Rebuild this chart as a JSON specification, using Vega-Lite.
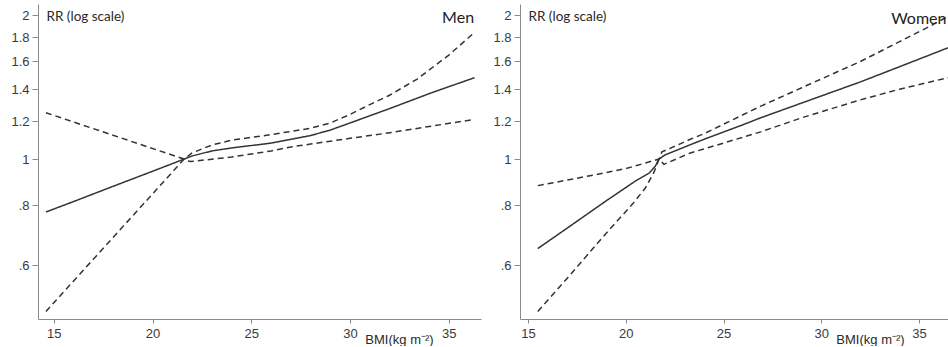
{
  "$schema": "https://vega.github.io/schema/vega-lite/v6.json",
  "padding": {"left": 10, "top": 4, "right": 0, "bottom": 0},
  "autosize": {"type": "pad"},
  "spacing": 11,
  "background": "white",
  "config": {
    "view": {"stroke": null},
    "axis": {"grid": false, "domainColor": "#8a8a8a", "tickColor": "#8a8a8a", "labelFont": "Liberation Sans", "labelFontSize": 13, "labelColor": "#3a3a3a", "titleFontWeight": "normal", "titleColor": "#2a2a2a"}
  },
  "datasets": {
    "curves": [
      {"sex": "Men", "series": "est", "bmi": 14.6, "rr": 0.775},
      {"sex": "Men", "series": "est", "bmi": 16, "rr": 0.815},
      {"sex": "Men", "series": "est", "bmi": 18, "rr": 0.877},
      {"sex": "Men", "series": "est", "bmi": 20, "rr": 0.943},
      {"sex": "Men", "series": "est", "bmi": 21.6, "rr": 1.0},
      {"sex": "Men", "series": "est", "bmi": 22, "rr": 1.015},
      {"sex": "Men", "series": "est", "bmi": 23, "rr": 1.04},
      {"sex": "Men", "series": "est", "bmi": 24, "rr": 1.055},
      {"sex": "Men", "series": "est", "bmi": 26, "rr": 1.08},
      {"sex": "Men", "series": "est", "bmi": 28, "rr": 1.12},
      {"sex": "Men", "series": "est", "bmi": 29, "rr": 1.15},
      {"sex": "Men", "series": "est", "bmi": 30, "rr": 1.19},
      {"sex": "Men", "series": "est", "bmi": 32, "rr": 1.275},
      {"sex": "Men", "series": "est", "bmi": 34, "rr": 1.37},
      {"sex": "Men", "series": "est", "bmi": 36.3, "rr": 1.48},
      {"sex": "Men", "series": "hi", "bmi": 14.6, "rr": 1.25},
      {"sex": "Men", "series": "hi", "bmi": 21.6, "rr": 1.0},
      {"sex": "Men", "series": "hi", "bmi": 22, "rr": 1.03},
      {"sex": "Men", "series": "hi", "bmi": 23, "rr": 1.07},
      {"sex": "Men", "series": "hi", "bmi": 24, "rr": 1.095},
      {"sex": "Men", "series": "hi", "bmi": 26, "rr": 1.125},
      {"sex": "Men", "series": "hi", "bmi": 28, "rr": 1.16},
      {"sex": "Men", "series": "hi", "bmi": 29, "rr": 1.19},
      {"sex": "Men", "series": "hi", "bmi": 30, "rr": 1.24},
      {"sex": "Men", "series": "hi", "bmi": 31, "rr": 1.3},
      {"sex": "Men", "series": "hi", "bmi": 32, "rr": 1.36},
      {"sex": "Men", "series": "hi", "bmi": 33.4, "rr": 1.47},
      {"sex": "Men", "series": "hi", "bmi": 35, "rr": 1.65},
      {"sex": "Men", "series": "hi", "bmi": 36.3, "rr": 1.84},
      {"sex": "Men", "series": "lo", "bmi": 14.6, "rr": 0.48},
      {"sex": "Men", "series": "lo", "bmi": 21.6, "rr": 1.0},
      {"sex": "Men", "series": "lo", "bmi": 21.9, "rr": 0.988},
      {"sex": "Men", "series": "lo", "bmi": 24, "rr": 1.01},
      {"sex": "Men", "series": "lo", "bmi": 26, "rr": 1.04},
      {"sex": "Men", "series": "lo", "bmi": 27, "rr": 1.06},
      {"sex": "Men", "series": "lo", "bmi": 28, "rr": 1.075},
      {"sex": "Men", "series": "lo", "bmi": 30, "rr": 1.105},
      {"sex": "Men", "series": "lo", "bmi": 32, "rr": 1.135},
      {"sex": "Men", "series": "lo", "bmi": 34, "rr": 1.17},
      {"sex": "Men", "series": "lo", "bmi": 36.3, "rr": 1.21},
      {"sex": "Women", "series": "est", "bmi": 15.5, "rr": 0.65},
      {"sex": "Women", "series": "est", "bmi": 17, "rr": 0.717},
      {"sex": "Women", "series": "est", "bmi": 19, "rr": 0.818},
      {"sex": "Women", "series": "est", "bmi": 20.5, "rr": 0.9},
      {"sex": "Women", "series": "est", "bmi": 21.2, "rr": 0.935},
      {"sex": "Women", "series": "est", "bmi": 21.5, "rr": 0.965},
      {"sex": "Women", "series": "est", "bmi": 21.7, "rr": 1.0},
      {"sex": "Women", "series": "est", "bmi": 22, "rr": 1.02},
      {"sex": "Women", "series": "est", "bmi": 24, "rr": 1.1},
      {"sex": "Women", "series": "est", "bmi": 26, "rr": 1.18},
      {"sex": "Women", "series": "est", "bmi": 26.9, "rr": 1.22},
      {"sex": "Women", "series": "est", "bmi": 29, "rr": 1.31},
      {"sex": "Women", "series": "est", "bmi": 32, "rr": 1.45},
      {"sex": "Women", "series": "est", "bmi": 34, "rr": 1.56},
      {"sex": "Women", "series": "est", "bmi": 36.5, "rr": 1.71},
      {"sex": "Women", "series": "hi", "bmi": 15.5, "rr": 0.88},
      {"sex": "Women", "series": "hi", "bmi": 18, "rr": 0.92},
      {"sex": "Women", "series": "hi", "bmi": 20, "rr": 0.955},
      {"sex": "Women", "series": "hi", "bmi": 21.7, "rr": 1.0},
      {"sex": "Women", "series": "hi", "bmi": 21.85, "rr": 1.035},
      {"sex": "Women", "series": "hi", "bmi": 23.3, "rr": 1.1},
      {"sex": "Women", "series": "hi", "bmi": 24, "rr": 1.13},
      {"sex": "Women", "series": "hi", "bmi": 26.9, "rr": 1.29},
      {"sex": "Women", "series": "hi", "bmi": 29, "rr": 1.41},
      {"sex": "Women", "series": "hi", "bmi": 32, "rr": 1.6},
      {"sex": "Women", "series": "hi", "bmi": 34, "rr": 1.76},
      {"sex": "Women", "series": "hi", "bmi": 35.6, "rr": 1.9},
      {"sex": "Women", "series": "hi", "bmi": 36.5, "rr": 1.99},
      {"sex": "Women", "series": "lo", "bmi": 15.5, "rr": 0.48},
      {"sex": "Women", "series": "lo", "bmi": 17, "rr": 0.563},
      {"sex": "Women", "series": "lo", "bmi": 19, "rr": 0.7},
      {"sex": "Women", "series": "lo", "bmi": 20.4, "rr": 0.81},
      {"sex": "Women", "series": "lo", "bmi": 21.0, "rr": 0.87},
      {"sex": "Women", "series": "lo", "bmi": 21.45, "rr": 0.94},
      {"sex": "Women", "series": "lo", "bmi": 21.7, "rr": 1.0},
      {"sex": "Women", "series": "lo", "bmi": 21.95, "rr": 0.975},
      {"sex": "Women", "series": "lo", "bmi": 23.3, "rr": 1.03},
      {"sex": "Women", "series": "lo", "bmi": 24, "rr": 1.05},
      {"sex": "Women", "series": "lo", "bmi": 26.9, "rr": 1.14},
      {"sex": "Women", "series": "lo", "bmi": 29, "rr": 1.22},
      {"sex": "Women", "series": "lo", "bmi": 32, "rr": 1.33},
      {"sex": "Women", "series": "lo", "bmi": 34, "rr": 1.4},
      {"sex": "Women", "series": "lo", "bmi": 36.5, "rr": 1.48}
    ]
  },
  "hconcat": [
    {
      "width": 443,
      "height": 315,
      "layer": [
        {
          "data": {"name": "curves"},
          "transform": [{"filter": "datum.sex === 'Men'"}],
          "mark": {"type": "line", "color": "#333333", "strokeWidth": 1.5, "clip": true},
          "encoding": {
            "x": {"field": "bmi", "type": "quantitative", "scale": {"domain": [14.2, 36.63], "nice": false, "zero": false},
              "axis": {"values": [15, 20, 25, 30, 35], "tickSize": 4, "labelPadding": 4, "title": "BMI(kg m⁻²)", "titleX": 361, "titleY": 24, "titleBaseline": "alphabetic", "titleAlign": "center", "titleFont": "Liberation Sans", "titleFontSize": 13}},
            "y": {"field": "rr", "type": "quantitative", "scale": {"type": "log", "domain": [0.463, 2.11], "nice": false, "zero": false},
              "axis": {"values": [0.6, 0.8, 1, 1.2, 1.4, 1.6, 1.8, 2], "labelExpr": "datum.value < 1 ? '.' + format(datum.value * 10, '.0f') : format(datum.value, '~g')", "tickSize": 6, "labelPadding": 3, "title": "RR (log scale)", "titleAngle": 0, "titleX": 8, "titleY": 12, "titleAlign": "left", "titleBaseline": "middle", "titleFont": "Lato", "titleFontSize": 13.5}},
            "detail": {"field": "series"},
            "strokeDash": {"field": "series", "type": "nominal", "scale": {"domain": ["est", "hi", "lo"], "range": [[1, 0], [6, 4], [6, 4]]}, "legend": null}
          }
        },
        {
          "data": {"values": [{}]},
          "mark": {"type": "text", "text": "Men", "align": "right", "baseline": "alphabetic", "font": "Lato", "fontSize": 16, "color": "#222222", "clip": true},
          "encoding": {"x": {"datum": 36.28, "type": "quantitative"}, "y": {"datum": 1.924, "type": "quantitative"}}
        }
      ]
    },
    {
      "width": 429,
      "height": 315,
      "layer": [
        {
          "data": {"name": "curves"},
          "transform": [{"filter": "datum.sex === 'Women'"}],
          "mark": {"type": "line", "color": "#333333", "strokeWidth": 1.5, "clip": true},
          "encoding": {
            "x": {"field": "bmi", "type": "quantitative", "scale": {"domain": [14.59, 36.53], "nice": false, "zero": false},
              "axis": {"values": [15, 20, 25, 30, 35], "tickSize": 4, "labelPadding": 4, "title": "BMI(kg m⁻²)", "titleX": 350, "titleY": 24, "titleBaseline": "alphabetic", "titleAlign": "center", "titleFont": "Liberation Sans", "titleFontSize": 13}},
            "y": {"field": "rr", "type": "quantitative", "scale": {"type": "log", "domain": [0.463, 2.11], "nice": false, "zero": false},
              "axis": {"values": [0.6, 0.8, 1, 1.2, 1.4, 1.6, 1.8, 2], "labelExpr": "datum.value < 1 ? '.' + format(datum.value * 10, '.0f') : format(datum.value, '~g')", "tickSize": 6, "labelPadding": 3, "title": "RR (log scale)", "titleAngle": 0, "titleX": 8, "titleY": 12, "titleAlign": "left", "titleBaseline": "middle", "titleFont": "Lato", "titleFontSize": 13.5}},
            "detail": {"field": "series"},
            "strokeDash": {"field": "series", "type": "nominal", "scale": {"domain": ["est", "hi", "lo"], "range": [[1, 0], [6, 4], [6, 4]]}, "legend": null}
          }
        },
        {
          "data": {"values": [{}]},
          "mark": {"type": "text", "text": "Women", "align": "right", "baseline": "alphabetic", "font": "Lato", "fontSize": 16, "color": "#222222", "clip": true},
          "encoding": {"x": {"datum": 36.4, "type": "quantitative"}, "y": {"datum": 1.915, "type": "quantitative"}}
        }
      ]
    }
  ]
}
